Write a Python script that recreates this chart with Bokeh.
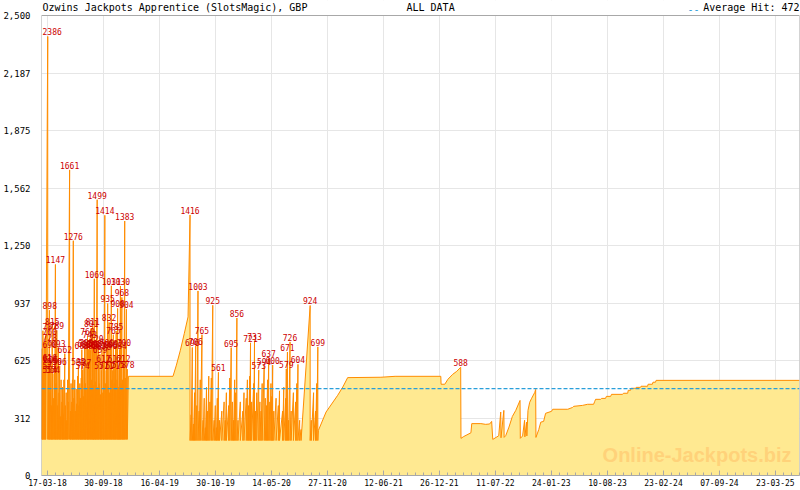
import pandas as pd
from bokeh.plotting import figure
from bokeh.models import (ColumnDataSource, Range1d, FixedTicker, DatetimeTickFormatter,
                          CustomJSTickFormatter, Span, Label, BoxAnnotation)
from bokeh.core.properties import value
from bokeh.embed import file_html
from bokeh.resources import INLINE

# ---------------- data ----------------
TITLE = "Ozwins Jackpots Apprentice (SlotsMagic), GBP"
PERIOD = "ALL DATA"
AVERAGE_HIT = 472
WATERMARK = "Online-Jackpots.biz"
LABEL_MIN = 550

x_start, x_end = "2018-02-24", "2025-06-16"
y_max = 2500
tick_dates = ["2018-03-17", "2018-09-30", "2019-04-16", "2019-10-30", "2020-05-14",
              "2020-11-27", "2021-06-12", "2021-12-26", "2022-07-11", "2023-01-24",
              "2023-08-10", "2024-02-23", "2024-09-07", "2025-03-23"]
y_ticks = [0, 312.5, 625, 937.5, 1250, 1562.5, 1875, 2187.5, 2500]

start_date, start_value = "2018-02-24", 196

# period 1: frequent hits, seed 196
seed_a = 196
hits_a_dates = [
    "2018-02-25", "2018-02-27", "2018-03-01", "2018-03-04", "2018-03-06", "2018-03-09", "2018-03-11", "2018-03-18", "2018-03-21",
    "2018-03-24", "2018-03-26", "2018-03-29", "2018-03-31", "2018-04-03", "2018-04-05", "2018-04-08", "2018-04-11", "2018-04-14", "2018-04-16",
    "2018-04-19", "2018-04-21", "2018-04-24", "2018-04-27", "2018-04-29", "2018-05-02", "2018-05-04", "2018-05-07", "2018-05-09", "2018-05-12",
    "2018-05-14", "2018-05-17", "2018-05-19", "2018-05-22", "2018-05-24", "2018-05-27", "2018-05-29", "2018-06-03", "2018-06-06",
    "2018-06-08", "2018-06-11", "2018-06-13", "2018-06-16", "2018-06-18", "2018-06-21", "2018-06-23", "2018-06-26", "2018-06-28", "2018-07-01",
    "2018-07-04", "2018-07-06", "2018-07-09", "2018-07-11", "2018-07-14", "2018-07-16", "2018-07-19", "2018-07-21", "2018-07-24", "2018-07-26",
    "2018-07-29", "2018-07-31", "2018-08-03", "2018-08-05", "2018-08-08", "2018-08-10", "2018-08-13", "2018-08-15", "2018-08-18", "2018-08-20",
    "2018-08-23", "2018-08-25", "2018-08-27", "2018-08-29", "2018-09-01", "2018-09-03", "2018-09-05", "2018-09-08", "2018-09-10", "2018-09-13",
    "2018-09-15", "2018-09-18", "2018-09-20", "2018-09-23", "2018-09-25", "2018-09-28", "2018-09-30", "2018-10-02", "2018-10-05", "2018-10-07",
    "2018-10-10", "2018-10-12", "2018-10-15", "2018-10-17", "2018-10-20", "2018-10-22", "2018-10-25", "2018-10-28", "2018-10-30", "2018-11-02",
    "2018-11-04", "2018-11-07", "2018-11-09", "2018-11-12", "2018-11-14", "2018-11-17", "2018-11-19", "2018-11-22", "2018-11-24", "2018-11-26",
    "2018-11-29", "2018-12-01", "2018-12-04", "2018-12-06", "2018-12-09", "2018-12-11", "2018-12-14", "2018-12-16", "2018-12-20", "2018-12-23"]
hits_a_values = [
    690, 554, 787, 616, 728, 571, 760, 2386, 614,
    898, 450, 606, 380, 815, 554, 420, 596, 1147, 500,
    789, 380, 693, 450, 596, 320, 520, 400, 480, 330,
    520, 662, 380, 450, 300, 520, 400, 1661, 350,
    500, 400, 520, 1276, 420, 520, 350, 470, 390, 540,
    595, 380, 500, 420, 530, 684, 574, 430, 587, 692,
    500, 700, 470, 760, 686, 480, 743, 680, 801, 520,
    811, 688, 490, 1069, 695, 510, 720, 1499, 480, 682,
    500, 659, 440, 571, 690, 450, 612, 678, 1414, 500,
    571, 700, 935, 480, 832, 450, 686, 1031, 520, 571,
    765, 500, 612, 692, 785, 520, 908, 480, 578, 684,
    1030, 500, 968, 520, 612, 700, 1383, 530, 904, 578]
# readings on the way up to a hit (no hit there)
climb_a_dates = ["2018-03-16", "2018-06-02"]
climb_a_values = [1868, 1460]

# gap / slow growth before the 1416 hit
slow1_dates = ["2018-12-27", "2019-06-02", "2019-06-14", "2019-06-28", "2019-07-12", "2019-07-25"]
slow1_values = [539, 539, 600, 681, 773, 862]

# period 2: frequent hits, seed 190
seed_b = 190
hits_b_dates = [
    "2019-08-01", "2019-08-05", "2019-08-09", "2019-08-13", "2019-08-17", "2019-08-21", "2019-08-25", "2019-08-29", "2019-09-02", "2019-09-06",
    "2019-09-12", "2019-09-16", "2019-09-20", "2019-09-24", "2019-09-28", "2019-10-02", "2019-10-06", "2019-10-10", "2019-10-15", "2019-10-20",
    "2019-10-25", "2019-10-29", "2019-11-02", "2019-11-05", "2019-11-09", "2019-11-13", "2019-11-21", "2019-11-29", "2019-12-03", "2019-12-07",
    "2019-12-15", "2019-12-19", "2019-12-24", "2019-12-28", "2020-01-01", "2020-01-05", "2020-01-09", "2020-01-13", "2020-01-17", "2020-01-25",
    "2020-02-03", "2020-02-07", "2020-02-15", "2020-02-19", "2020-02-23", "2020-02-27", "2020-03-01", "2020-03-05", "2020-03-12", "2020-03-15",
    "2020-03-19", "2020-03-23", "2020-03-30", "2020-04-03", "2020-04-07", "2020-04-11", "2020-04-18", "2020-04-22", "2020-04-26", "2020-04-30",
    "2020-05-04", "2020-05-08", "2020-05-12", "2020-05-15", "2020-05-18", "2020-05-22", "2020-05-30", "2020-06-07", "2020-06-11", "2020-06-22",
    "2020-06-26", "2020-07-03", "2020-07-05", "2020-07-09", "2020-07-13", "2020-07-18", "2020-07-22", "2020-07-30", "2020-08-07", "2020-08-11",
    "2020-08-15", "2020-08-21", "2020-08-26", "2020-09-27", "2020-10-01", "2020-10-09", "2020-10-16", "2020-10-20", "2020-10-24"]
hits_b_values = [
    1416, 330, 696, 280, 450, 706, 380, 1003, 350, 520,
    765, 300, 420, 260, 480, 350, 540, 400, 530, 925,
    300, 380, 260, 420, 561, 300, 350, 400, 300, 450,
    380, 530, 695, 400, 300, 520, 450, 856, 300, 400,
    350, 450, 420, 520, 380, 540, 721, 400, 500, 733,
    350, 450, 573, 400, 350, 500, 594, 420, 380, 520,
    637, 400, 500, 430, 600, 350, 420, 380, 460, 350,
    480, 420, 579, 671, 300, 726, 350, 450, 400, 500,
    604, 300, 250, 924, 300, 450, 350, 500, 699]

# later, slowly growing period
slow2_dates = [
    "2020-10-26", "2020-11-22", "2021-01-02", "2021-01-20", "2021-02-06", "2021-06-03", "2021-07-23", "2021-12-31",
    "2022-01-01", "2022-01-14", "2022-01-25", "2022-02-11", "2022-02-25", "2022-03-11", "2022-03-12", "2022-03-22",
    "2022-04-16", "2022-04-19", "2022-05-21", "2022-06-07", "2022-06-21", "2022-06-28", "2022-07-02", "2022-07-23",
    "2022-07-30", "2022-07-31", "2022-08-10", "2022-08-11", "2022-08-17", "2022-08-28", "2022-09-09", "2022-09-21",
    "2022-10-06", "2022-10-07", "2022-10-15", "2022-10-22", "2022-10-23", "2022-10-29", "2022-10-30", "2022-11-03",
    "2022-11-09", "2022-11-16", "2022-11-27", "2022-11-30", "2022-12-01", "2022-12-11", "2022-12-18", "2022-12-28",
    "2023-01-04", "2023-01-25", "2023-01-29", "2023-03-23", "2023-04-09", "2023-04-13", "2023-05-14", "2023-06-01",
    "2023-06-22", "2023-06-26", "2023-06-29", "2023-07-17", "2023-07-20", "2023-08-03", "2023-08-06", "2023-08-21",
    "2023-08-24", "2023-10-02", "2023-10-05", "2023-10-20", "2023-10-22", "2023-10-30", "2023-11-01", "2023-11-17",
    "2023-11-19", "2023-12-04", "2023-12-06", "2023-12-29", "2023-12-31", "2024-01-15", "2024-01-17", "2024-01-26",
    "2024-01-28", "2025-06-16"]
slow2_values = [
    245, 345, 436, 481, 532, 534, 539, 539,
    496, 496, 523, 550, 566, 588, 202, 212,
    232, 282, 282, 278, 280, 294, 196, 216,
    345, 205, 354, 207, 218, 263, 321, 354,
    408, 202, 215, 300, 210, 290, 215, 354,
    398, 420, 452, 468, 207, 250, 290, 294,
    338, 349, 360, 360, 370, 376, 381, 387,
    387, 403, 414, 414, 419, 419, 430, 430,
    441, 441, 447, 447, 463, 463, 474, 474,
    479, 479, 485, 485, 496, 496, 507, 507,
    517, 517]

late_hit_dates = ["2022-03-11"]
late_hit_values = [588]

# ---------------- build series ----------------
xs = [start_date]
ys = [start_value]
events_a = sorted([(d, v, True) for d, v in zip(hits_a_dates, hits_a_values)] +
                  [(d, v, False) for d, v in zip(climb_a_dates, climb_a_values)])
for d, v, is_hit in events_a:
    xs.append(d)
    ys.append(v)
    if is_hit:
        xs.append(d)
        ys.append(seed_a)
xs += slow1_dates
ys += slow1_values
for d, v in zip(hits_b_dates, hits_b_values):
    xs += [d, d]
    ys += [v, seed_b]
xs += slow2_dates
ys += slow2_values

src = ColumnDataSource(dict(x=pd.to_datetime(xs), y=ys))

# ---------------- geometry ----------------
FIG_W, FIG_H = 800, 490
B_LEFT, B_RIGHT, B_BOTTOM = 40, 1, 15
HEADER = 15                      # room above the value box for the title line
FRAME_W = FIG_W - B_LEFT - B_RIGHT
FRAME_H = FIG_H - B_BOTTOM       # frame runs to the top; the box ends at y_max
y_top = y_max * FRAME_H / (FRAME_H - HEADER)
LABEL_CHAR_W = 4.82

t0, t1 = pd.Timestamp(x_start), pd.Timestamp(x_end)
lx, ly, lo = [], [], []
for dl, vl in ((hits_a_dates, hits_a_values), (hits_b_dates, hits_b_values),
               (late_hit_dates, late_hit_values)):
    for d, v in zip(dl, vl):
        if v >= LABEL_MIN:
            ts = pd.Timestamp(d)
            px = (ts - t0) / (t1 - t0) * FRAME_W
            half = len(str(v)) * LABEL_CHAR_W / 2
            lx.append(ts)
            ly.append(v)
            lo.append(max(0.0, half + 1 - px))
lbl_src = ColumnDataSource(dict(x=lx, y=ly, t=[str(v) for v in ly], xo=lo))

# ---------------- figure ----------------
MONO = "DejaVu Sans Mono"
GREY = "#A8A8A8"

p = figure(width=FIG_W, height=FIG_H, x_axis_type="datetime", output_backend="svg",
           toolbar_location=None,
           x_range=Range1d(t0, t1), y_range=Range1d(0, y_top),
           min_border_left=B_LEFT, min_border_right=B_RIGHT,
           min_border_top=0, min_border_bottom=B_BOTTOM)
p.background_fill_color = "white"
p.border_fill_color = "white"
p.outline_line_color = None

p.varea(x="x", y1=0, y2="y", source=src, fill_color="#FFE991", fill_alpha=1.0)
p.line(x="x", y="y", source=src, line_color="#FF8C00", line_width=1.0)

p.text(x="x", y="y", text="t", source=lbl_src, x_offset="xo", text_font=value(MONO),
       text_font_size="8px", text_color="#CC0000", text_align="center",
       text_baseline="bottom", y_offset=-1)

p.add_layout(Span(location=AVERAGE_HIT, dimension="width", line_color="#2A9FDA",
                  line_dash="4 2", line_width=1.2))

# header strip (white) and the box around the values
p.add_layout(BoxAnnotation(bottom=y_max, fill_color="white", fill_alpha=1.0,
                           line_color=None))
p.add_layout(BoxAnnotation(bottom=0, top=y_max, fill_alpha=0.0, fill_color=None,
                           line_color=GREY, line_width=1, line_alpha=1.0))

# axes
tick_ms = [pd.Timestamp(d).value / 1e6 for d in tick_dates]
step = (tick_ms[-1] - tick_ms[0]) / (len(tick_ms) - 1)
minor = [tick_ms[0] + k * step / 7 for k in range(-7, 7 * len(tick_ms) + 7)]
p.xaxis.ticker = FixedTicker(ticks=tick_ms, minor_ticks=minor)
fmt = "%d-%m-%y"
p.xaxis.formatter = DatetimeTickFormatter(days=fmt, months=fmt, years=fmt, hours=fmt,
                                          hourmin=fmt, minutes=fmt, minsec=fmt, seconds=fmt,
                                          milliseconds=fmt, microseconds=fmt)
p.xaxis.axis_line_color = GREY
p.xaxis.major_tick_line_color = GREY
p.xaxis.minor_tick_line_color = GREY
p.xaxis.major_tick_in = 5
p.xaxis.major_tick_out = 0
p.xaxis.minor_tick_in = 3
p.xaxis.minor_tick_out = 0
p.xaxis.major_label_text_font = MONO
p.xaxis.major_label_text_font_size = "8px"
p.xaxis.major_label_text_color = "black"
p.xaxis.major_label_standoff = 3

p.yaxis.ticker = FixedTicker(ticks=y_ticks)
p.yaxis.formatter = CustomJSTickFormatter(code="return Math.floor(tick).toLocaleString('en-US');")
p.yaxis.axis_line_color = None
p.yaxis.major_tick_line_color = None
p.yaxis.minor_tick_line_color = None
p.yaxis.major_label_text_font = MONO
p.yaxis.major_label_text_font_size = "9px"
p.yaxis.major_label_text_color = "black"
p.yaxis.major_label_standoff = 5

p.xgrid.grid_line_color = "#E6E6E6"
p.ygrid.grid_line_color = "#E6E6E6"

# header texts (screen units, measured up from the frame bottom)
top_y = FRAME_H - HEADER + 3
p.add_layout(Label(x=1, y=top_y, x_units="screen", y_units="screen", text=TITLE,
                   text_font=MONO, text_font_size="10px", text_color="black",
                   text_baseline="bottom"))
p.add_layout(Label(x=365, y=top_y, x_units="screen", y_units="screen", text=PERIOD,
                   text_font=MONO, text_font_size="10px", text_color="black",
                   text_baseline="bottom"))
p.add_layout(Label(x=646, y=top_y, x_units="screen", y_units="screen", text="--",
                   text_font=MONO, text_font_size="10px", text_color="#2A9FDA",
                   text_baseline="bottom"))
p.add_layout(Label(x=FRAME_W - 1, y=top_y, x_units="screen", y_units="screen",
                   text="Average Hit: %d" % AVERAGE_HIT, text_align="right",
                   text_font=MONO, text_font_size="10px", text_color="black",
                   text_baseline="bottom"))
p.add_layout(Label(x=FRAME_W - 9, y=10, x_units="screen", y_units="screen", text=WATERMARK,
                   text_font="Liberation Sans", text_font_style="bold", text_font_size="20px",
                   text_color="#FFD27A", text_align="right", text_baseline="bottom"))

open("out.html", "w").write(file_html(p, INLINE))
